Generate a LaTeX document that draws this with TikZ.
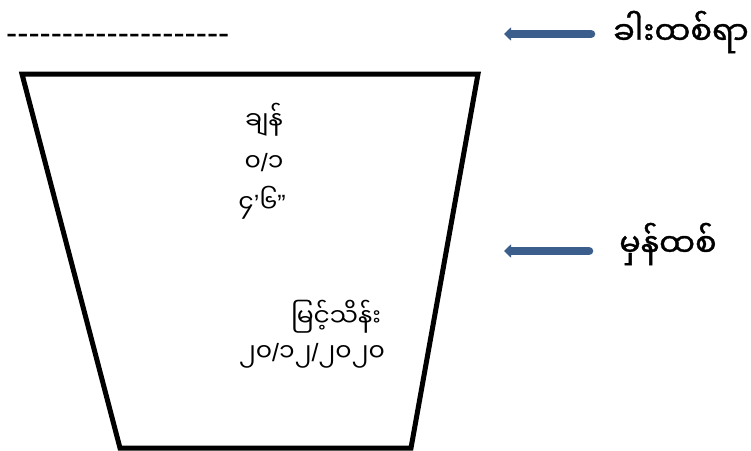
\documentclass[tikz,border=0pt]{standalone}
\usepackage{fontspec}
\usepackage{tikz}
\usetikzlibrary{arrows, arrows.meta, calc}
\usepackage{xcolor}
\newfontfamily\mmfont[Script=Myanmar]{Noto Sans Myanmar UI}
\newfontfamily\mmbold[Script=Myanmar, FakeBold=1.2]{Noto Sans Myanmar UI}
\newfontfamily\hyfont{Liberation Sans}
\newcommand{\slsh}{{\hyfont /}}
\definecolor{notchblue}{HTML}{3B5E8C}

\begin{document}
\begin{tikzpicture}[x=1pt, y=-1pt,
	mmtext/.style={font=\mmfont\fontsize{25}{28}\selectfont, inner sep=0pt},
	tagtext/.style={font=\mmbold\fontsize{32}{36}\selectfont, inner sep=0pt, anchor=west},
	notch/.style={notchblue, line width=8.5pt, line cap=round, -{Triangle[length=7pt, width=13pt]}}]
	\useasboundingbox (0,0) rectangle (751,450);
	\coordinate (TL) at (22,74);
	\coordinate (TR) at (478,74);
	\coordinate (BR) at (411,448);
	\coordinate (BL) at (120,448);
	\draw [line width=5pt, line join=miter] (TL) -- (TR) -- (BR) -- (BL) -- cycle;
	\node [inner sep=0pt, anchor=west, font=\hyfont\fontsize{33.5}{36}\selectfont] (dashes) at (6,39) {--------------------};
	% labels on the right
	\node [tagtext] (waist) at (613,32) {ခါးထစ်ရာ};
	\node [tagtext] (mark) at (619,244) {မှန်ထစ်};
	\coordinate (waisttip) at (504,34);
	\coordinate (marktip) at (504,251);
	\draw [notch] ($(waist.west)+(-22,2)$) -- (waisttip);
	\draw [notch] ($(mark.west)+(-30,7)$) -- (marktip);
	% text in the box
	\node [mmtext] (name) at (264,120) {ချန်};
	\node [mmtext] (num) at (264,163) {၀\slsh၁};
	\node [mmtext] (size) at (262,203) {၄{\hyfont’}၆{\hyfont”}};
	\node [mmtext] (maker) at (336,317) {မြင့်သိန်း};
	\node [mmtext] (date) at (312,356) {၂၀\slsh၁၂\slsh၂၀၂၀};
\end{tikzpicture}
\end{document}
